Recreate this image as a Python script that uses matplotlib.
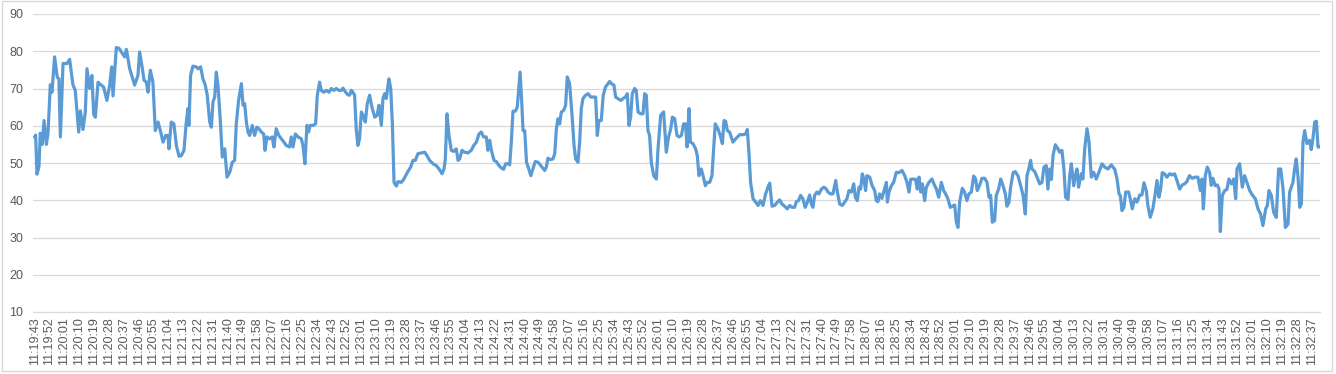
import datetime as dt
import matplotlib
matplotlib.use("Agg")
import matplotlib.pyplot as plt
from matplotlib.patches import Rectangle

# --- Data (seconds after 11:19:43, value) ---
secs = [
    0.0, 0.6, 1.4, 2.6, 3.4, 4.6, 5.7, 7.1, 8.1, 9.5, 10.5, 12.1, 13.7, 14.7, 15.6, 17.2, 19.6, 21.2, 23.2, 24.6,
    26.7, 27.7, 29.3, 30.7, 31.7, 33.3, 34.7, 35.8, 36.8, 38.4, 40.0, 41.8, 43.8, 45.5, 46.7, 47.5, 49.5, 51.1, 54.5, 55.6,
    57.6, 60.6, 62.6, 63.6, 65.0, 66.3, 67.7, 68.7, 70.1, 71.7, 73.1, 74.8, 76.4, 77.8, 79.4, 80.8, 81.4, 82.8, 84.4, 85.9,
    87.5, 88.9, 90.5, 91.9, 92.9, 93.5, 94.5, 95.9, 98.0, 99.0, 100.6, 102.0, 103.4, 104.6, 106.1, 107.1, 108.1, 109.1, 110.1, 111.1,
    112.7, 113.7, 115.2, 116.6, 118.2, 119.8, 121.2, 122.2, 123.6, 125.3, 126.3, 127.3, 128.3, 129.3, 130.3, 131.9, 133.3, 134.7, 135.9, 137.4,
    138.8, 139.6, 140.8, 142.4, 144.0, 145.0, 146.4, 148.0, 149.5, 151.1, 152.5, 154.5, 155.5, 156.6, 158.0, 159.6, 161.6, 162.6, 163.8, 165.0,
    166.0, 167.0, 168.7, 170.3, 171.3, 172.7, 173.7, 175.2, 176.8, 178.4, 179.8, 181.4, 182.8, 184.4, 185.9, 186.9, 188.5, 189.9, 190.9, 191.9,
    192.9, 193.9, 194.9, 195.9, 196.9, 198.0, 199.0, 200.4, 201.6, 203.0, 204.4, 206.1, 207.5, 208.7, 210.1, 211.1, 212.1, 213.1, 214.7, 215.8,
    216.8, 217.8, 219.2, 220.2, 222.2, 223.8, 225.9, 227.9, 229.3, 230.7, 232.3, 234.3, 236.4, 238.0, 239.4, 241.4, 243.4, 245.1, 246.9, 248.1,
    248.9, 249.9, 251.1, 252.5, 253.9, 255.5, 256.6, 257.6, 259.0, 260.6, 262.6, 264.6, 266.1, 267.7, 269.3, 270.7, 272.1, 273.7, 274.7, 275.8,
    276.8, 278.4, 279.8, 281.4, 282.8, 284.2, 285.5, 286.9, 287.9, 288.9, 289.9, 291.3, 292.5, 293.3, 294.2, 295.2, 296.0, 297.0, 298.1, 299.5,
    300.7, 302.0, 303.4, 305.1, 307.1, 309.1, 310.1, 311.1, 312.5, 314.1, 315.2, 316.2, 317.2, 318.2, 319.2, 320.6, 321.8, 322.8, 324.2, 325.7,
    326.9, 327.9, 329.3, 330.3, 331.3, 332.3, 333.9, 335.4, 337.0, 338.4, 340.0, 341.0, 342.0, 343.4, 344.6, 346.0, 347.5, 348.5, 349.5, 351.1,
    352.1, 353.5, 355.2, 356.6, 358.0, 359.2, 360.2, 361.2, 362.2, 363.6, 364.6, 365.7, 367.3, 368.7, 369.7, 370.7, 371.7, 372.7, 373.7, 375.2,
    376.8, 377.8, 379.4, 381.2, 382.8, 384.2, 385.5, 386.5, 387.9, 389.3, 390.5, 392.0, 393.3, 394.5, 395.4, 396.6, 397.4, 399.0, 400.6, 401.6,
    402.6, 404.0, 405.1, 406.5, 407.7, 409.1, 410.5, 411.5, 412.5, 414.1, 415.5, 416.8, 417.8, 418.8, 419.8, 421.2, 423.2, 425.3, 427.3, 429.3,
    430.9, 431.9, 432.9, 433.9, 435.4, 437.0, 438.4, 439.8, 441.4, 443.0, 444.4, 445.5, 446.9, 448.5, 450.1, 451.5, 452.9, 454.5, 456.1, 457.6,
    459.0, 460.6, 461.6, 463.0, 464.2, 465.6, 467.0, 468.3, 469.7, 470.7, 471.7, 472.7, 474.1, 475.3, 476.8, 478.4, 479.8, 480.8, 482.4, 483.8,
    485.5, 486.5, 487.9, 489.5, 490.9, 492.3, 493.5, 495.0, 496.4, 497.4, 498.6, 499.6, 500.6, 501.6, 502.6, 503.6, 504.4, 506.1, 507.5, 509.1,
    510.1, 511.1, 512.1, 513.5, 514.8, 516.2, 516.8, 517.8, 519.2, 520.6, 522.2, 523.8, 525.7, 527.3, 528.7, 529.9, 530.9, 532.3, 533.9, 534.9,
    536.0, 537.0, 538.0, 539.4, 540.4, 542.0, 543.8, 545.5, 546.5, 547.9, 549.5, 550.9, 552.1, 553.5, 554.9, 556.1, 557.6, 558.6, 559.6, 560.6,
    562.2, 563.6, 565.0, 566.2, 567.7, 569.1, 570.3, 571.3, 572.7, 574.1, 575.8, 577.2, 578.4, 579.4, 580.4, 581.8, 582.8, 584.2, 585.5, 586.9,
    588.3, 589.3, 590.5, 591.5, 593.0, 594.3, 596.0, 597.6, 599.0, 600.4, 601.4, 602.6, 603.6, 604.4, 606.1, 607.5, 609.1, 610.5, 611.7, 613.1,
    614.1, 615.2, 616.2, 617.2, 618.6, 620.2, 621.2, 622.6, 623.8, 624.8, 626.3, 627.3, 628.3, 629.7, 630.7, 631.7, 632.7, 634.3, 635.3, 636.4,
    637.8, 639.0, 640.4, 641.8, 643.4, 645.0, 646.9, 648.5, 650.5, 652.5, 654.6, 656.0, 657.2, 658.0, 659.0, 660.2, 661.2, 663.0, 664.0, 665.2,
    666.7, 668.1, 669.7, 671.1, 672.3, 673.7, 674.7, 676.1, 677.7, 679.1, 680.2, 681.4, 682.4, 683.4, 684.8, 686.2, 687.9, 689.5, 690.9, 692.3,
    693.9, 695.5, 696.9, 698.3, 699.9, 701.6, 703.4, 705.0, 706.5, 707.5, 708.3, 709.5, 710.7, 712.1, 713.1, 714.1, 715.5, 716.8, 717.8, 718.6,
    719.8, 721.2, 722.6, 723.8, 725.3, 726.7, 727.9, 728.7, 730.3, 731.9, 733.3, 734.7, 736.4, 738.0, 739.8, 741.4, 743.0, 744.4, 746.1, 747.1,
    748.1, 749.5, 750.9, 752.5, 753.9, 755.2, 756.6, 758.0, 759.6, 760.6, 762.6, 763.6, 764.6, 765.7, 766.7, 767.7, 768.7, 769.7, 771.1, 772.7,
    773.7, 774.7, 775.8, 776.8, 777.8, 778.8,
]
vals = [
    57.0, 57.5, 47.0, 49.0, 58.0, 55.0, 61.4, 55.0, 58.0, 71.0, 69.0, 78.5, 73.0, 72.6, 57.0, 76.7, 76.7, 77.8, 71.0, 69.5,
    58.3, 64.0, 59.0, 63.7, 75.3, 70.0, 73.5, 63.0, 62.3, 71.7, 71.0, 70.4, 66.8, 71.0, 75.8, 68.0, 81.0, 80.8, 78.5, 80.5,
    75.3, 70.9, 73.5, 79.8, 76.2, 72.2, 71.7, 69.0, 74.9, 71.7, 58.7, 61.0, 58.3, 55.6, 57.4, 57.4, 53.8, 61.0, 60.5, 54.7,
    51.8, 52.0, 53.4, 61.0, 64.6, 60.1, 73.5, 76.0, 75.8, 75.3, 75.8, 72.6, 70.9, 68.2, 61.0, 59.6, 66.4, 67.7, 74.4, 70.9,
    60.1, 51.6, 53.8, 46.2, 47.5, 50.2, 50.7, 60.5, 66.8, 71.3, 65.5, 65.9, 61.0, 58.3, 57.4, 60.1, 57.4, 59.6, 59.2, 58.3,
    57.8, 53.4, 57.0, 56.5, 57.0, 54.3, 59.2, 57.4, 56.5, 55.6, 54.7, 54.3, 57.0, 54.3, 57.8, 57.0, 56.5, 54.7, 49.8, 60.1,
    58.3, 60.1, 60.1, 60.5, 68.2, 71.7, 69.5, 69.0, 69.5, 69.0, 70.0, 69.5, 70.0, 69.5, 69.5, 70.1, 69.0, 68.3, 68.2, 69.5,
    69.0, 68.2, 59.2, 54.7, 56.5, 63.7, 62.8, 61.0, 65.9, 68.2, 65.0, 62.3, 62.8, 65.5, 60.1, 67.3, 68.6, 67.3, 72.6, 70.0,
    60.5, 44.8, 43.8, 45.0, 44.8, 45.7, 47.5, 48.9, 50.7, 50.7, 52.5, 52.7, 52.9, 51.8, 50.7, 49.8, 49.3, 48.4, 47.1, 48.4,
    51.1, 63.2, 57.4, 53.4, 53.1, 53.8, 50.7, 51.1, 53.4, 52.9, 52.7, 53.4, 54.7, 55.6, 57.8, 58.3, 57.0, 57.0, 53.4, 56.1,
    53.4, 50.7, 50.4, 49.3, 48.7, 48.3, 49.8, 49.8, 49.5, 55.6, 63.9, 63.9, 65.0, 69.5, 74.4, 66.4, 58.7, 58.7, 50.2, 48.4,
    46.6, 48.4, 50.4, 50.2, 49.1, 48.0, 48.9, 51.3, 50.9, 51.1, 52.5, 59.2, 61.9, 60.5, 63.7, 64.1, 65.5, 73.1, 71.3, 62.8,
    54.7, 51.1, 50.2, 55.6, 64.6, 67.3, 68.2, 68.6, 67.7, 67.7, 67.7, 57.4, 61.4, 61.4, 68.2, 70.4, 71.3, 71.9, 71.3, 70.9,
    67.7, 67.3, 66.8, 67.3, 67.7, 68.6, 60.1, 62.3, 68.6, 70.0, 69.5, 63.7, 63.2, 63.2, 68.6, 68.2, 58.7, 57.4, 50.2, 46.6,
    45.7, 53.8, 62.8, 63.7, 52.9, 57.0, 59.2, 62.3, 61.9, 57.4, 57.0, 57.4, 60.5, 60.5, 54.3, 64.6, 55.6, 55.2, 53.8, 52.0,
    46.6, 48.4, 46.6, 43.9, 44.8, 44.8, 46.6, 53.8, 60.5, 59.2, 57.4, 55.2, 61.4, 61.2, 58.7, 58.3, 55.6, 56.7, 57.6, 57.6,
    57.8, 59.0, 52.9, 44.8, 40.4, 39.5, 38.6, 39.9, 38.6, 41.7, 43.5, 44.6, 38.4, 38.6, 39.5, 40.1, 39.0, 38.4, 37.7, 38.6,
    38.1, 38.1, 39.6, 39.9, 41.3, 40.4, 38.1, 39.5, 41.4, 39.0, 38.1, 41.3, 42.2, 41.7, 43.0, 43.5, 43.0, 42.2, 41.7, 41.7,
    45.3, 42.2, 39.0, 38.6, 39.5, 40.4, 42.6, 42.2, 44.4, 40.8, 39.9, 43.5, 43.0, 47.1, 45.7, 42.6, 46.6, 46.2, 44.0, 42.6,
    39.9, 39.6, 41.7, 40.5, 42.6, 44.8, 39.5, 42.2, 43.9, 44.8, 47.5, 47.4, 48.0, 46.6, 44.8, 42.2, 45.6, 45.7, 45.6, 43.0,
    46.2, 42.2, 44.4, 39.9, 43.5, 44.8, 45.7, 43.9, 43.0, 40.8, 44.8, 42.6, 41.7, 40.4, 38.1, 38.4, 38.7, 34.1, 32.7, 39.5,
    43.2, 42.2, 39.9, 41.7, 42.2, 46.5, 45.7, 42.6, 44.0, 45.9, 45.9, 44.8, 40.8, 41.3, 34.1, 34.5, 41.3, 43.0, 45.7, 43.9,
    41.7, 38.4, 39.5, 43.5, 47.4, 47.7, 46.5, 43.9, 41.4, 36.3, 46.6, 48.6, 50.7, 48.4, 47.7, 46.2, 44.4, 44.8, 48.9, 49.3,
    43.0, 48.4, 45.6, 52.0, 54.9, 53.8, 52.9, 53.4, 48.4, 40.8, 40.2, 46.6, 49.8, 43.9, 46.6, 48.4, 43.5, 47.1, 45.7, 53.8,
    59.2, 55.6, 46.2, 47.5, 45.7, 47.5, 49.8, 48.9, 48.4, 49.5, 48.3, 45.7, 41.7, 41.3, 37.2, 38.1, 42.2, 42.2, 40.4, 37.7,
    40.4, 39.5, 41.4, 41.4, 44.7, 42.6, 38.6, 35.4, 37.7, 41.7, 45.3, 40.8, 43.0, 47.4, 47.1, 46.2, 47.1, 46.8, 47.1, 45.3,
    43.0, 44.1, 44.4, 45.0, 46.6, 45.9, 46.2, 46.2, 42.6, 45.7, 37.7, 46.6, 48.9, 47.5, 44.0, 45.9, 43.9, 44.1, 43.0, 31.6,
    41.3, 42.6, 42.9, 45.7, 44.4, 45.7, 40.4, 48.4, 49.8, 43.5, 46.6, 44.8, 42.6, 41.4, 40.4, 37.7, 36.3, 33.2, 37.7, 38.6,
    42.6, 41.3, 36.8, 35.4, 48.4, 48.4, 43.0, 32.7, 33.6, 42.2, 44.8, 48.4, 51.1, 46.2, 38.1, 39.0, 55.6, 58.7, 55.2, 56.1,
    53.6, 56.5, 61.0, 61.2, 54.3, 54.3,
]

# tick labels: every 9 s from 11:19:43 to 11:32:37
start = dt.datetime(2000, 1, 1, 11, 19, 43)
tick_secs = list(range(0, 775, 9))
tick_labels = [(start + dt.timedelta(seconds=s)).strftime("%H:%M:%S") for s in tick_secs]
y_ticks = [10, 20, 30, 40, 50, 60, 70, 80, 90]

plt.rcParams['font.family'] = ['Liberation Sans', 'DejaVu Sans']

fig = plt.figure(figsize=(13.36, 3.74), dpi=100)
W, H = 1336, 374
ax = fig.add_axes([33 / W, 1 - 312 / H, (1320 - 33) / W, (312 - 14) / H])

ax.plot(secs, vals, color='#5B9BD5', lw=2.3, solid_joinstyle='round', zorder=3)

ax.set_xlim(-1, 779)
ax.set_ylim(10, 90)
ax.set_yticks(y_ticks)
ax.set_xticks(tick_secs)
ax.set_xticklabels(tick_labels, rotation=90)
ax.grid(axis='y', color='#D9D9D9', lw=0.9)
ax.set_axisbelow(True)
for side in ['top', 'right', 'left']:
    ax.spines[side].set_visible(False)
ax.spines['bottom'].set_color('#D9D9D9')
ax.tick_params(axis='both', length=0, labelsize=9, colors='#595959')
ax.tick_params(axis='y', pad=7)
ax.tick_params(axis='x', pad=4)

# chart border
fig.patches.append(Rectangle((1.5 / W, 1 - 370.5 / H), 1330 / W, 370 / H,
                             transform=fig.transFigure, fill=False,
                             edgecolor='#D9D9D9', lw=1))

fig.savefig('out.png', dpi=100)
